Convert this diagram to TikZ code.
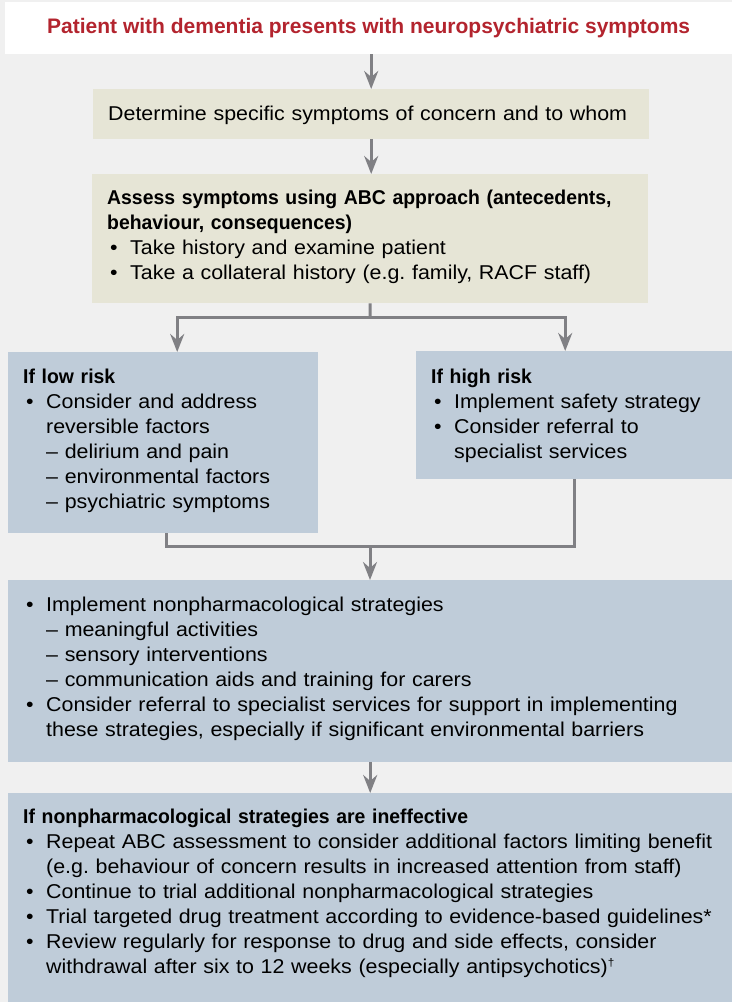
\documentclass[tikz,border=0pt]{standalone}
\usepackage{fontspec}
\setmainfont{Liberation Sans}[
  UprightFeatures={FakeStretch=1.07},
  BoldFeatures={FakeStretch=0.97}]
\newfontfamily\titlefont{Liberation Sans}
\usetikzlibrary{arrows.meta}
\frenchspacing

\definecolor{pagegray}{HTML}{F0F0F0}
\definecolor{tanfill}{HTML}{E6E5D6}
\definecolor{bluefill}{HTML}{BFCCD9}
\definecolor{linkgray}{HTML}{808084}
\definecolor{titlered}{HTML}{B3242E}

% bullet and hanging indent for the list lines
\newcommand{\itm}{\hspace*{3pt}\makebox[20pt][l]{\textbullet}}
\newcommand{\ind}{\hspace*{23pt}}
\newcommand{\dg}{\raisebox{7pt}{\fontsize{11}{11}\selectfont\textdagger}}

\tikzset{
  panel/.style={rectangle, inner sep=0pt, anchor=north west},
  tanbox/.style={panel, fill=tanfill},
  bluebox/.style={panel, fill=bluefill},
  boxtext/.style={anchor=base west, inner sep=0pt, text width=700pt, align=left,
    font=\fontsize{20}{25}\selectfont},
  link/.style={draw=linkgray, line width=3pt},
  flow/.style={link, -{Stealth[length=18pt,width=14pt,inset=6pt]}},
}

\begin{document}
\begin{tikzpicture}[x=1pt,y=-1pt]
    % Page
    \fill[pagegray] (0,0) rectangle (732,1002);
    \useasboundingbox (0,0) rectangle (732,1002);

    % Boxes
    \node[panel, fill=white, minimum width=727pt, minimum height=52pt,
      text=titlered, font=\titlefont\fontsize{21}{25}\selectfont\bfseries] (title) at (5,2)
      {Patient with dementia presents with neuropsychiatric symptoms};
    \node[tanbox, minimum width=556pt, minimum height=50pt] (determine) at (93,89) {};
    \node[tanbox, minimum width=556pt, minimum height=129pt] (assess) at (92,174) {};
    \node[bluebox, minimum width=310pt, minimum height=181pt] (lowrisk) at (8,352) {};
    \node[bluebox, minimum width=316pt, minimum height=128pt] (highrisk) at (416,351) {};
    \node[bluebox, minimum width=724pt, minimum height=182pt] (nonpharm) at (8,580) {};
    \node[bluebox, minimum width=724pt, minimum height=209pt] (ineffective) at (8,793) {};

    % Texts
    \node[boxtext] at ([xshift=15pt,yshift=-31pt]determine.north west)
      {Determine specific symptoms of concern and to whom};
    \node[boxtext] at ([xshift=15pt,yshift=-30pt]assess.north west)
      {\textbf{Assess symptoms using ABC approach (antecedents,}\\
       \textbf{behaviour, consequences)}\\
       \itm Take history and examine patient\\
       \itm Take a collateral history (e.g. family, RACF staff)};
    \node[boxtext] at ([xshift=15pt,yshift=-31pt]lowrisk.north west)
      {\textbf{If low risk}\\
       \itm Consider and address\\
       \ind reversible factors\\
       \ind -- delirium and pain\\
       \ind -- environmental factors\\
       \ind -- psychiatric symptoms};
    \node[boxtext] at ([xshift=15pt,yshift=-32pt]highrisk.north west)
      {\textbf{If high risk}\\
       \itm Implement safety strategy\\
       \itm Consider referral to\\
       \ind specialist services};
    \node[boxtext] at ([xshift=15pt,yshift=-31pt]nonpharm.north west)
      {\itm Implement nonpharmacological strategies\\
       \ind -- meaningful activities\\
       \ind -- sensory interventions\\
       \ind -- communication aids and training for carers\\
       \itm Consider referral to specialist services for support in implementing\\
       \ind these strategies, especially if significant environmental barriers};
    \node[boxtext] at ([xshift=15pt,yshift=-30pt]ineffective.north west)
      {\textbf{If nonpharmacological strategies are ineffective}\\
       \itm Repeat ABC assessment to consider additional factors limiting benefit\\
       \ind (e.g. behaviour of concern results in increased attention from staff)\\
       \itm Continue to trial additional nonpharmacological strategies\\
       \itm Trial targeted drug treatment according to evidence-based guidelines*\\
       \itm Review regularly for response to drug and side effects, consider\\
       \ind withdrawal after six to 12 weeks (especially antipsychotics)\dg};

    % Connectors
    \coordinate (split) at (370,317);
    \coordinate (join) at (370,546);
    \draw[flow] (determine.north |- title.south) -- (determine.north);
    \draw[flow] (determine.south) -- (determine.south |- assess.north);
    \draw[link] (assess.south) -- (split);
    \draw[flow] (split) -| ([xshift=14pt]lowrisk.north);
    \draw[flow] (split) -| ([xshift=-9pt]highrisk.north);
    \draw[link] ([xshift=3pt]lowrisk.south) |- (join) -| (highrisk.south);
    \draw[flow] (join) -- (join |- nonpharm.north);
    \draw[flow] (nonpharm.south) -- (ineffective.north);
\end{tikzpicture}
\end{document}
